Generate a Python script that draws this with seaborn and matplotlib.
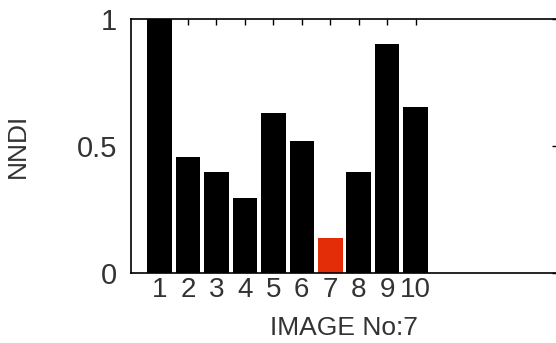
import pandas as pd
import seaborn as sns
import matplotlib.pyplot as plt

# NNDI per image, image 7 highlighted
images = [1, 2, 3, 4, 5, 6, 7, 8, 9, 10]
nndi = [1.0, 0.457, 0.398, 0.296, 0.63, 0.52, 0.138, 0.398, 0.90, 0.654]
highlight = 7
y_ticks = [0, 0.5, 1]
y_ticklabels = ['0', '0.5', '1']

sns.set_style('white')
plt.rcParams['font.family'] = ['Liberation Sans', 'DejaVu Sans']

df = pd.DataFrame({'image': images, 'nndi': nndi})
df['group'] = ['sel' if i == highlight else 'other' for i in images]

fig = plt.figure(figsize=(5.56, 3.43), dpi=100)
ax = fig.add_axes([0.2356, 0.204, 0.768, 0.7405])

sns.barplot(data=df, x='image', y='nndi', hue='group', native_scale=True,
            palette={'other': 'black', 'sel': '#e32c08'}, width=0.86,
            dodge=False, legend=False, saturation=1, ax=ax,
            edgecolor='none', linewidth=0)

ax.set_xlim(0, 15)
ax.set_ylim(0, 1)
ax.set_xticks(images)
ax.set_xticklabels([str(i) for i in images], fontsize=20)
ax.set_yticks(y_ticks)
ax.set_yticklabels(y_ticklabels, fontsize=21)
ax.tick_params(axis='both', direction='in', top=True, right=True, length=4,
               width=1, color='black', labelcolor='#333333')
ax.tick_params(axis='x', pad=3)
ax.tick_params(axis='y', pad=10)
for s in ax.spines.values():
    s.set_color('black')
    s.set_linewidth(1.2)

ax.set_xlabel('IMAGE No:7', fontsize=19, color='#333333')
ax.xaxis.set_label_coords(0.5, -0.168)
ax.set_ylabel('NNDI', fontsize=19, color='#333333')
ax.yaxis.set_label_coords(-0.237, 0.5)

fig.savefig('out.png', dpi=100)
